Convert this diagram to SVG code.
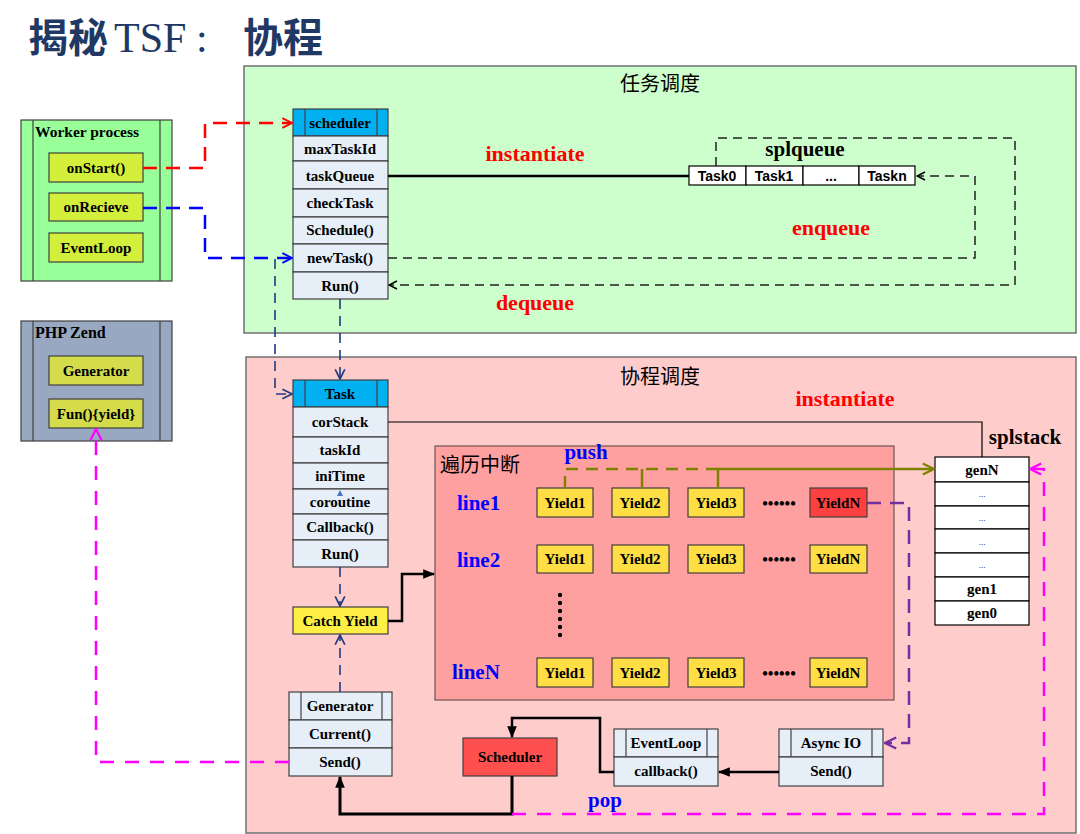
<svg xmlns="http://www.w3.org/2000/svg" width="1080" height="834" viewBox="0 0 1080 834">
<defs>
<style>
.b{font-family:"Liberation Serif","Times New Roman",serif;font-weight:bold;font-size:15px;fill:#000;text-anchor:middle}
.s{font-family:"Liberation Sans",Arial,sans-serif;font-weight:bold;font-size:14px;fill:#000;text-anchor:middle}
.red{font-family:"Liberation Serif",serif;font-weight:bold;font-size:22px;fill:#ff0000}
.blue{font-family:"Liberation Serif",serif;font-weight:bold;font-size:21px;fill:#0000ff}
.cn{font-family:"Noto Sans CJK SC","Noto Sans",sans-serif;font-size:20px;fill:#000;text-anchor:middle}
.row{fill:#e6eef8;stroke:#404040;stroke-width:1.2}
.hdr{fill:#00b0f0;stroke:#404040;stroke-width:1.2}
.yl{fill:#ffdd44;stroke:#404040;stroke-width:1.2}
.gy{fill:#d4ee3c;stroke:#404040;stroke-width:1.2}
.wt{fill:#fff;stroke:#000;stroke-width:1.2}
.ln{stroke:#404040;stroke-width:1.2}
.dots{font-family:"Liberation Serif",serif;font-size:9px;fill:#000;text-anchor:middle}
</style>
<marker id="openBk" viewBox="0 0 10 10" refX="9" refY="5" markerWidth="10" markerHeight="10" markerUnits="userSpaceOnUse" orient="auto"><path d="M1,1 L9,5 L1,9" fill="none" stroke="#000" stroke-width="1.5"/></marker>
<marker id="openRed" viewBox="0 0 10 10" refX="9" refY="5" markerWidth="12" markerHeight="12" markerUnits="userSpaceOnUse" orient="auto"><path d="M1,1 L9,5 L1,9" fill="none" stroke="#ff0000" stroke-width="1.6"/></marker>
<marker id="openBlue" viewBox="0 0 10 10" refX="9" refY="5" markerWidth="12" markerHeight="12" markerUnits="userSpaceOnUse" orient="auto"><path d="M1,1 L9,5 L1,9" fill="none" stroke="#0000ff" stroke-width="1.6"/></marker>
<marker id="openNavy" viewBox="0 0 10 10" refX="9" refY="5" markerWidth="12" markerHeight="12" markerUnits="userSpaceOnUse" orient="auto"><path d="M1,1 L9,5 L1,9" fill="none" stroke="#1f3a80" stroke-width="1.4"/></marker>
<marker id="openMag" viewBox="0 0 10 10" refX="9" refY="5" markerWidth="14" markerHeight="14" markerUnits="userSpaceOnUse" orient="auto"><path d="M1,1 L9,5 L1,9" fill="none" stroke="#ff00ff" stroke-width="1.6"/></marker>
<marker id="openPur" viewBox="0 0 10 10" refX="9" refY="5" markerWidth="14" markerHeight="14" markerUnits="userSpaceOnUse" orient="auto"><path d="M1,1 L9,5 L1,9" fill="none" stroke="#7030a0" stroke-width="1.6"/></marker>
<marker id="openOl" viewBox="0 0 10 10" refX="9" refY="5" markerWidth="14" markerHeight="14" markerUnits="userSpaceOnUse" orient="auto"><path d="M1,1 L9,5 L1,9" fill="none" stroke="#808000" stroke-width="1.6"/></marker>
<marker id="fillBk" viewBox="0 0 10 10" refX="9" refY="5" markerWidth="12" markerHeight="12" markerUnits="userSpaceOnUse" orient="auto"><path d="M0,1 L10,5 L0,9 Z" fill="#000"/></marker>
</defs>
<rect width="1080" height="834" fill="#fff"/>

<g id="title" fill="#1f3864">
<text x="28" y="52" font-family="Noto Sans CJK SC,sans-serif" font-weight="bold" font-size="40">揭秘</text>
<text x="114" y="52" font-family="Liberation Serif,serif" font-size="42">TSF</text>
<text x="196" y="52" font-family="Liberation Serif,serif" font-size="42">:</text>
<text x="243" y="52" font-family="Noto Sans CJK SC,sans-serif" font-weight="bold" font-size="40">协程</text>
</g>

<g id="panel-task-scheduling">
<rect x="244" y="66" width="832" height="267" fill="#ccffcc" stroke="#707070" stroke-width="1.5"/>
<text class="cn" x="660" y="91">任务调度</text>
</g>

<g id="panel-coroutine-scheduling">
<rect x="246" y="357" width="830" height="476" fill="#ffcccc" stroke="#707070" stroke-width="1.5"/>
<text class="cn" x="660" y="384">协程调度</text>
</g>

<g id="worker-process">
<rect x="21" y="120" width="151" height="161" fill="#99ff99" stroke="#404040" stroke-width="1.2"/>
<line class="ln" x1="33" y1="120" x2="33" y2="281"/>
<line class="ln" x1="160" y1="120" x2="160" y2="281"/>
<text x="35" y="137" font-family="Liberation Serif,serif" font-weight="bold" font-size="15.5">Worker process</text>
<g id="onStart"><rect class="gy" x="49" y="153" width="94" height="29"/><text class="b" x="96" y="173">onStart()</text></g>
<g id="onRecieve"><rect class="gy" x="49" y="193" width="94" height="28"/><text class="b" x="96" y="212">onRecieve</text></g>
<g id="EventLoopW"><rect class="gy" x="49" y="233" width="94" height="29"/><text class="b" x="96" y="253">EventLoop</text></g>
</g>

<g id="php-zend">
<rect x="21" y="321" width="151" height="120" fill="#98a8c0" stroke="#404040" stroke-width="1.2"/>
<line class="ln" x1="33" y1="321" x2="33" y2="441"/>
<line class="ln" x1="160" y1="321" x2="160" y2="441"/>
<text x="35" y="338" font-family="Liberation Serif,serif" font-weight="bold" font-size="16">PHP Zend</text>
<g id="GeneratorZ"><rect x="49" y="356" width="94" height="29" fill="#d4dc4c" stroke="#404040" stroke-width="1.2"/><text class="b" x="96" y="376">Generator</text></g>
<g id="FunYield"><rect x="49" y="399" width="94" height="29" fill="#d4dc4c" stroke="#404040" stroke-width="1.2"/><text class="b" x="96" y="419">Fun(){yield}</text></g>
</g>

<g id="scheduler-class">
<rect class="hdr" x="293" y="109" width="95" height="27"/>
<line class="ln" x1="305" y1="109" x2="305" y2="136"/>
<line class="ln" x1="377" y1="109" x2="377" y2="136"/>
<text class="b" x="340" y="128">scheduler</text>
<rect class="row" x="293" y="136" width="95" height="25"/><text class="b" x="340" y="154">maxTaskId</text>
<rect class="row" x="293" y="161" width="95" height="28"/><text class="b" x="340" y="181">taskQueue</text>
<rect class="row" x="293" y="189" width="95" height="28"/><text class="b" x="340" y="208">checkTask</text>
<rect class="row" x="293" y="217" width="95" height="27"/><text class="b" x="340" y="235">Schedule()</text>
<rect class="row" x="293" y="244" width="95" height="28"/><text class="b" x="340" y="263">newTask()</text>
<rect class="row" x="293" y="272" width="95" height="27"/><text class="b" x="340" y="291">Run()</text>
</g>

<g id="splqueue">
<text x="805" y="156" font-family="Liberation Serif,serif" font-weight="bold" font-size="21" text-anchor="middle">splqueue</text>
<rect class="wt" x="689" y="166" width="57" height="19"/><text class="s" x="717" y="181">Task0</text>
<rect class="wt" x="746" y="166" width="57" height="19"/><text class="s" x="774" y="181">Task1</text>
<rect class="wt" x="803" y="166" width="56" height="19"/><text class="s" x="831" y="181">...</text>
<rect class="wt" x="859" y="166" width="56" height="19"/><text class="s" x="887" y="181">Taskn</text>
</g>

<g id="task-class">
<rect class="hdr" x="293" y="380" width="95" height="27"/>
<line class="ln" x1="305" y1="380" x2="305" y2="407"/>
<line class="ln" x1="377" y1="380" x2="377" y2="407"/>
<text class="b" x="340" y="399">Task</text>
<rect class="row" x="293" y="407" width="95" height="30"/><text class="b" x="340" y="427">corStack</text>
<rect class="row" x="293" y="437" width="95" height="26"/><text class="b" x="340" y="455">taskId</text>
<rect class="row" x="293" y="463" width="95" height="26"/><text class="b" x="340" y="481">iniTime</text>
<rect class="row" x="293" y="489" width="95" height="25"/><text class="b" x="340" y="507">coroutine</text>
<polygon points="337,496 343,496 340,490" fill="#4472c4"/>
<rect class="row" x="293" y="514" width="95" height="26"/><text class="b" x="340" y="532">Callback()</text>
<rect class="row" x="293" y="540" width="95" height="27"/><text class="b" x="340" y="559">Run()</text>
</g>

<g id="catch-yield">
<rect x="293" y="607" width="95" height="27" fill="#ffee44" stroke="#404040" stroke-width="1.2"/>
<text class="b" x="340" y="626">Catch Yield</text>
</g>

<g id="generator-class">
<rect class="row" x="289" y="692" width="103" height="28"/>
<line class="ln" x1="301" y1="692" x2="301" y2="720"/>
<line class="ln" x1="382" y1="692" x2="382" y2="720"/>
<text class="b" x="340" y="711">Generator</text>
<rect class="row" x="289" y="720" width="103" height="28"/><text class="b" x="340" y="739">Current()</text>
<rect class="row" x="289" y="748" width="103" height="28"/><text class="b" x="340" y="767">Send()</text>
</g>

<g id="traverse-interrupt">
<rect x="435" y="446" width="459" height="254" fill="#ffa0a0" stroke="#705050" stroke-width="1.2"/>
<text x="440" y="472" font-family="Noto Sans CJK SC,sans-serif" font-size="20">遍历中断</text>
<text class="blue" x="457" y="510">line1</text>
<text class="blue" x="457" y="567">line2</text>
<text class="blue" x="452" y="679">lineN</text>
<g id="l1y1"><rect class="yl" x="537" y="488" width="56" height="29"/><text class="b" x="565" y="508">Yield1</text></g>
<g id="l1y2"><rect class="yl" x="612" y="488" width="57" height="29"/><text class="b" x="640" y="508">Yield2</text></g>
<g id="l1y3"><rect class="yl" x="688" y="488" width="56" height="29"/><text class="b" x="716" y="508">Yield3</text></g>
<text x="779" y="509" font-family="Liberation Serif,serif" font-weight="bold" font-size="16" text-anchor="middle">••••••</text>
<g id="l1yN"><rect x="810" y="488" width="57" height="29" fill="#ff4040" stroke="#404040" stroke-width="1.2"/><text class="b" x="838" y="508">YieldN</text></g>
<g id="l2y1"><rect class="yl" x="537" y="545" width="56" height="28"/><text class="b" x="565" y="564">Yield1</text></g>
<g id="l2y2"><rect class="yl" x="612" y="545" width="57" height="28"/><text class="b" x="640" y="564">Yield2</text></g>
<g id="l2y3"><rect class="yl" x="688" y="545" width="56" height="28"/><text class="b" x="716" y="564">Yield3</text></g>
<text x="779" y="565" font-family="Liberation Serif,serif" font-weight="bold" font-size="16" text-anchor="middle">••••••</text>
<g id="l2yN"><rect class="yl" x="810" y="545" width="57" height="28"/><text class="b" x="838" y="564">YieldN</text></g>
<g fill="#000">
<circle cx="560" cy="595" r="2.2"/><circle cx="560" cy="603" r="2.2"/><circle cx="560" cy="611" r="2.2"/><circle cx="560" cy="619" r="2.2"/><circle cx="560" cy="627" r="2.2"/><circle cx="560" cy="635" r="2.2"/>
</g>
<g id="lNy1"><rect class="yl" x="537" y="658" width="56" height="29"/><text class="b" x="565" y="678">Yield1</text></g>
<g id="lNy2"><rect class="yl" x="612" y="658" width="57" height="29"/><text class="b" x="640" y="678">Yield2</text></g>
<g id="lNy3"><rect class="yl" x="688" y="658" width="56" height="29"/><text class="b" x="716" y="678">Yield3</text></g>
<text x="779" y="679" font-family="Liberation Serif,serif" font-weight="bold" font-size="16" text-anchor="middle">••••••</text>
<g id="lNyN"><rect class="yl" x="810" y="658" width="57" height="29"/><text class="b" x="838" y="678">YieldN</text></g>
</g>

<g id="splstack">
<text x="1025" y="444" font-family="Liberation Serif,serif" font-weight="bold" font-size="21" text-anchor="middle">splstack</text>
<rect class="wt" x="935" y="457" width="94" height="25"/><text class="b" x="982" y="475" font-size="14">genN</text>
<rect class="wt" x="935" y="482" width="94" height="24"/><text class="dots" x="982" y="497">...</text>
<rect class="wt" x="935" y="506" width="94" height="23"/><text class="dots" x="982" y="521">...</text>
<rect class="wt" x="935" y="529" width="94" height="24"/><text class="dots" x="982" y="545">...</text>
<rect class="wt" x="935" y="553" width="94" height="24"/><text class="dots" x="982" y="568">...</text>
<rect class="wt" x="935" y="577" width="94" height="24"/><text class="b" x="982" y="594" font-size="14">gen1</text>
<rect class="wt" x="935" y="601" width="94" height="24"/><text class="b" x="982" y="618" font-size="14">gen0</text>
</g>

<g id="scheduler-red">
<rect x="463" y="738" width="94" height="38" fill="#ff5050" stroke="#404040" stroke-width="1.2"/>
<text class="b" x="510" y="762" font-size="14">Scheduler</text>
</g>

<g id="eventloop-class">
<rect class="row" x="614" y="729" width="104" height="28"/>
<line class="ln" x1="626" y1="729" x2="626" y2="757"/>
<line class="ln" x1="707" y1="729" x2="707" y2="757"/>
<text class="b" x="666" y="748" font-size="14">EventLoop</text>
<rect class="row" x="614" y="757" width="104" height="29"/><text class="b" x="666" y="776" font-size="14">callback()</text>
</g>

<g id="asyncio-class">
<rect class="row" x="779" y="729" width="104" height="28"/>
<line class="ln" x1="791" y1="729" x2="791" y2="757"/>
<line class="ln" x1="872" y1="729" x2="872" y2="757"/>
<text class="b" x="831" y="748" font-size="14">Async IO</text>
<rect class="row" x="779" y="757" width="104" height="29"/><text class="b" x="831" y="776" font-size="14">Send()</text>
</g>

<g id="labels">
<text class="red" x="535" y="161" text-anchor="middle">instantiate</text>
<text class="red" x="831" y="235" text-anchor="middle">enqueue</text>
<text class="red" x="535" y="310" text-anchor="middle">dequeue</text>
<text class="red" x="845" y="406" text-anchor="middle">instantiate</text>
<text class="blue" x="586" y="459" text-anchor="middle">push</text>
<text class="blue" x="605" y="807" text-anchor="middle">pop</text>
</g>

<g id="connectors" fill="none">
<path d="M143,168 H205 V123 H292" stroke="#ff0000" stroke-width="2.5" stroke-dasharray="14,9" marker-end="url(#openRed)"/>
<path d="M143,208 H205 V258 H292" stroke="#0000ff" stroke-width="2.5" stroke-dasharray="14,9" marker-end="url(#openBlue)"/>
<path d="M275,259 V394 H292" stroke="#1f3a80" stroke-width="1.6" stroke-dasharray="10,7" marker-end="url(#openNavy)"/>
<path d="M340,299 V379" stroke="#1f3a80" stroke-width="1.6" stroke-dasharray="10,7" marker-end="url(#openNavy)"/>
<path d="M340,567 V606" stroke="#1f3a80" stroke-width="1.6" stroke-dasharray="10,7" marker-end="url(#openNavy)"/>
<path d="M340,692 V635" stroke="#1f3a80" stroke-width="1.6" stroke-dasharray="10,7" marker-end="url(#openNavy)"/>
<path d="M388,176 H689" stroke="#000" stroke-width="2.5"/>
<path d="M716,166 V138 H1015 V285 H389" stroke="#202020" stroke-width="1.5" stroke-dasharray="9,6" marker-end="url(#openBk)"/>
<path d="M388,258 H975 V176 H917" stroke="#202020" stroke-width="1.5" stroke-dasharray="9,6" marker-end="url(#openBk)"/>
<path d="M388,422 H982 V457" stroke="#000" stroke-width="1.2"/>
<path d="M565,488 V469 H718" stroke="#808000" stroke-width="2.5" stroke-dasharray="12,8"/>
<path d="M642,469 V488" stroke="#808000" stroke-width="2.5"/>
<path d="M718,488 V469 H934" stroke="#808000" stroke-width="2.5" marker-end="url(#openOl)"/>
<path d="M867,503 H909 V743 H885" stroke="#7030a0" stroke-width="2.5" stroke-dasharray="14,9" marker-end="url(#openPur)"/>
<path d="M388,621 H402 V574 H434" stroke="#000" stroke-width="2.5" marker-end="url(#fillBk)"/>
<path d="M512,776 V814 H340 V777" stroke="#000" stroke-width="3" marker-end="url(#fillBk)"/>
<path d="M614,772 H600 V718 H512 V737" stroke="#000" stroke-width="2.5" marker-end="url(#fillBk)"/>
<path d="M779,772 H719" stroke="#000" stroke-width="2.5" marker-end="url(#fillBk)"/>
<path d="M289,762 H96 V429" stroke="#ff00ff" stroke-width="2.5" stroke-dasharray="14,11" marker-end="url(#openMag)"/>
<path d="M512,814 H1044 V469 H1030" stroke="#ff00ff" stroke-width="2.5" stroke-dasharray="14,11" marker-end="url(#openMag)"/>
</g>
</svg>
